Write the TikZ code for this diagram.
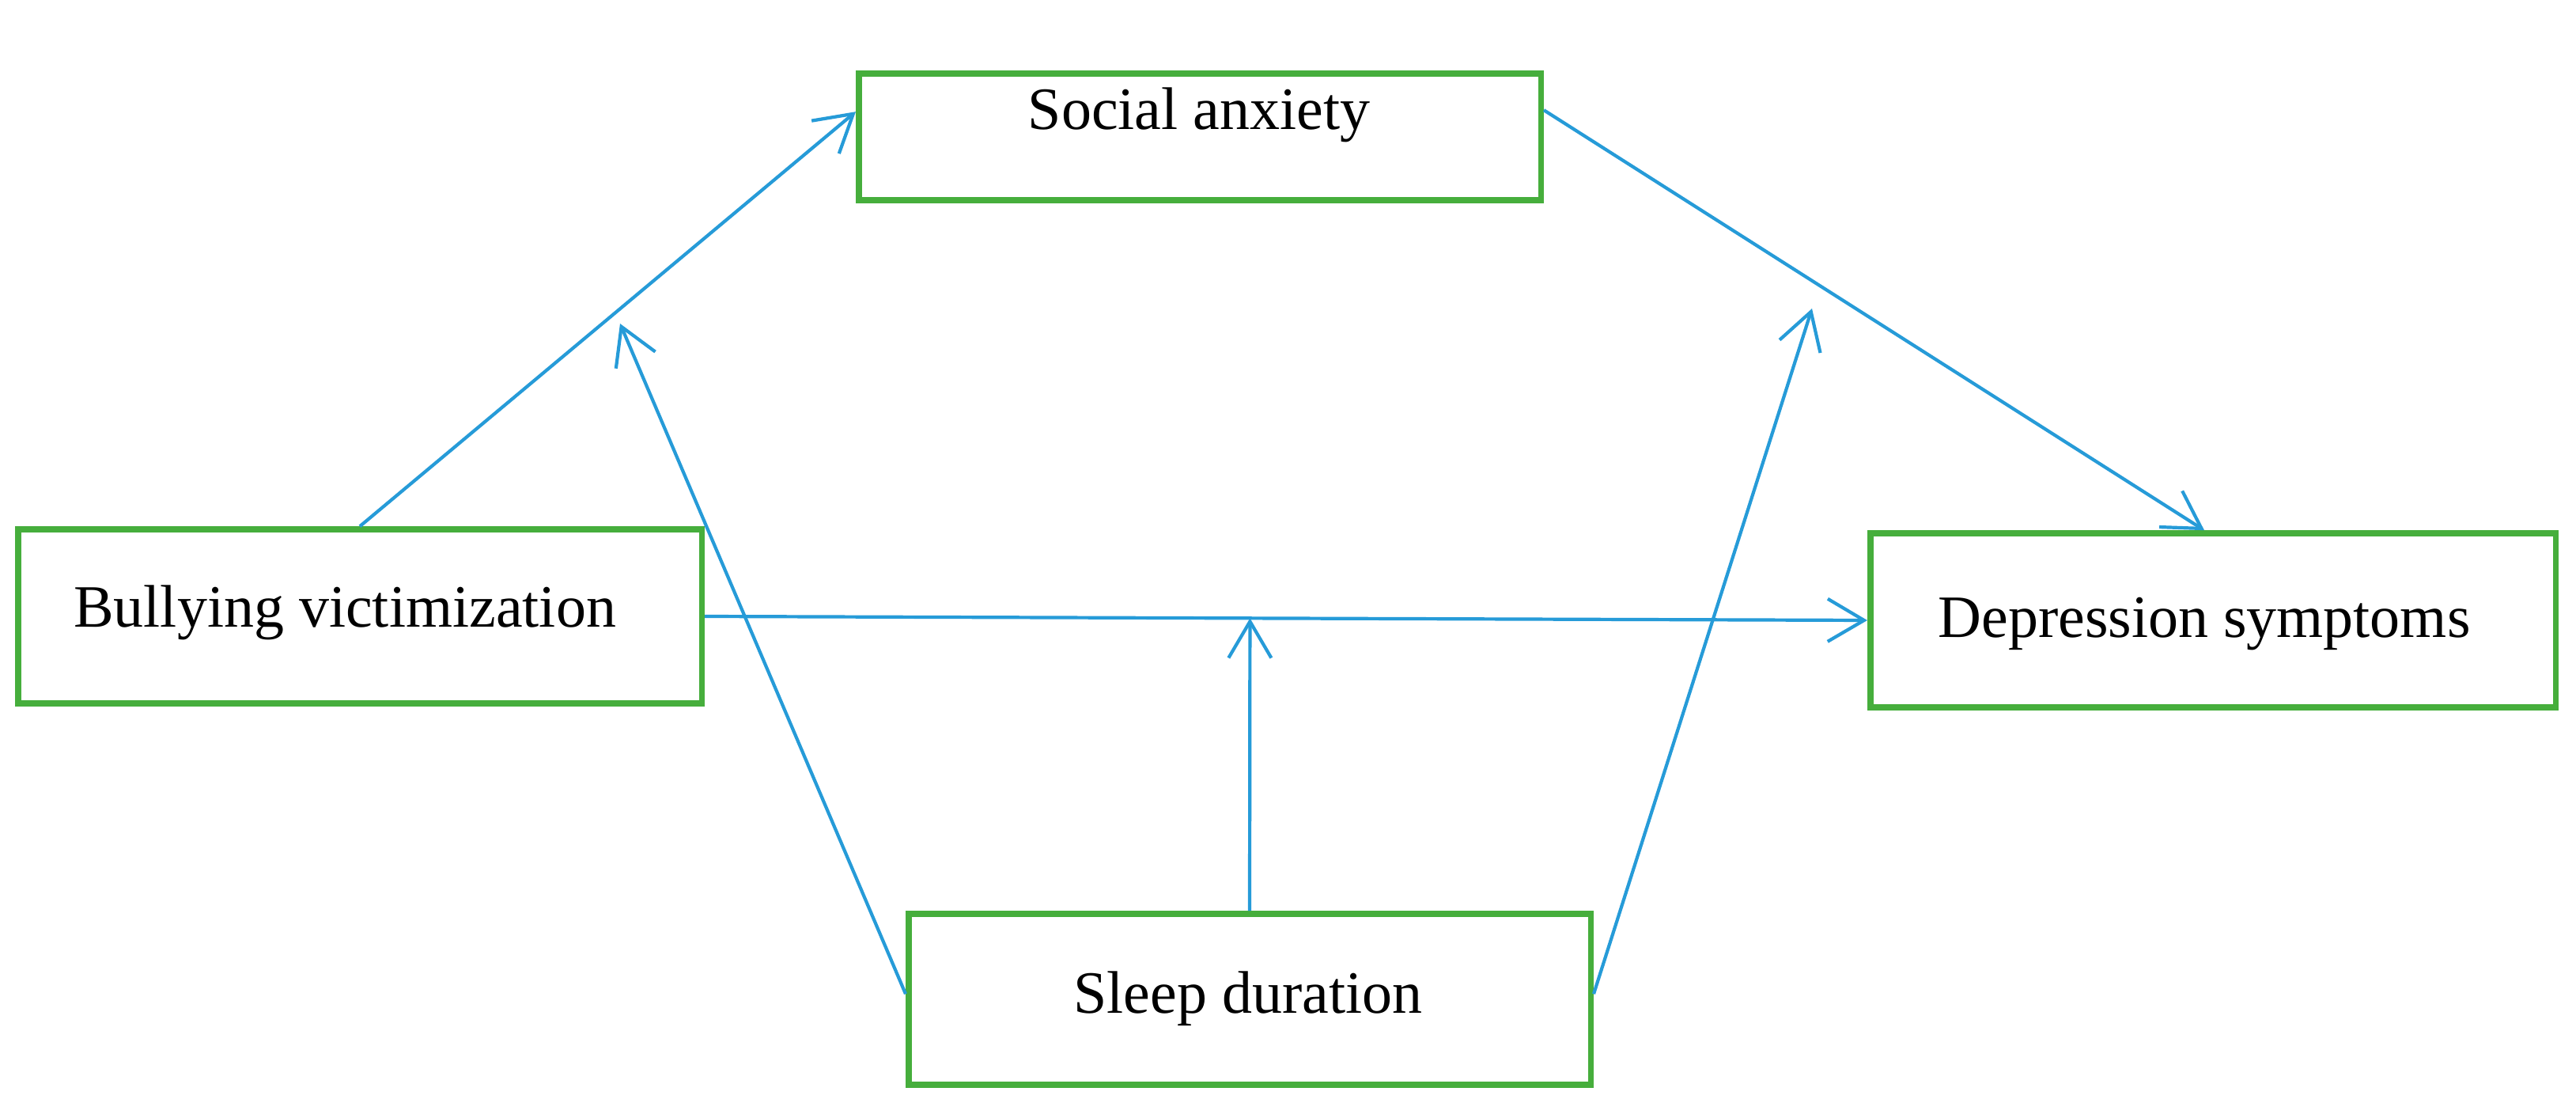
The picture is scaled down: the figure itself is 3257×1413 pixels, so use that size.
\documentclass[tikz,border=0pt]{standalone}
\usepackage{fontspec}
\setmainfont{Liberation Serif}
\usetikzlibrary{arrows.meta,calc}
\definecolor{boxgreen}{RGB}{70,174,60}
\definecolor{arrowblue}{RGB}{38,155,216}
\begin{document}
\begin{tikzpicture}[x=0.01cm,y=-0.01cm,
  box/.style={draw=boxgreen,line width=0.075cm,rectangle,inner sep=0pt},
  lbl/.style={anchor=base,inner sep=0pt,font=\fontsize{21.6}{26}\selectfont},
  conn/.style={draw=arrowblue,line width=0.042cm,-{Straight Barb[length=0.46cm,width=0.54cm]}}]
\useasboundingbox[fill=white] (0,0) rectangle (3257,1413);
% boxes
\node[box,minimum width=8.62cm,minimum height=1.60cm] (sa) at (1517,173) {};
\node[box,minimum width=8.64cm,minimum height=2.20cm] (bv) at (455,779) {};
\node[box,minimum width=8.66cm,minimum height=2.20cm] (ds) at (2798,784) {};
\node[box,minimum width=8.62cm,minimum height=2.16cm] (sd) at (1580,1263) {};
% labels
\node[lbl] (saT) at (1516,164) {Social anxiety};
\node[lbl] (bvT) at (436,793) {Bullying victimization};
\node[lbl] (dsT) at (2787,806) {Depression symptoms};
\node[lbl] (sdT) at (1578,1280) {Sleep duration};
% free ends
\coordinate (m) at ($(bv.east)!0.469!(ds.west)$);
\coordinate (p1) at (784,409);
\coordinate (p2) at (2291,390);
% connectors
\draw[conn] (bv.north) -- ($(sa.north west)+(0,52)$);
\draw[conn] ($(sa.north east)+(0,50)$) -- ($(ds.north west)+(426,0)$);
\draw[conn] (bv.east) -- (ds.west);
\draw[conn] (sd.north) -- (m);
\draw[conn] ($(sd.north west)+(0,105)$) -- (p1);
\draw[conn] ($(sd.north east)+(0,105)$) -- (p2);
\end{tikzpicture}
\end{document}
